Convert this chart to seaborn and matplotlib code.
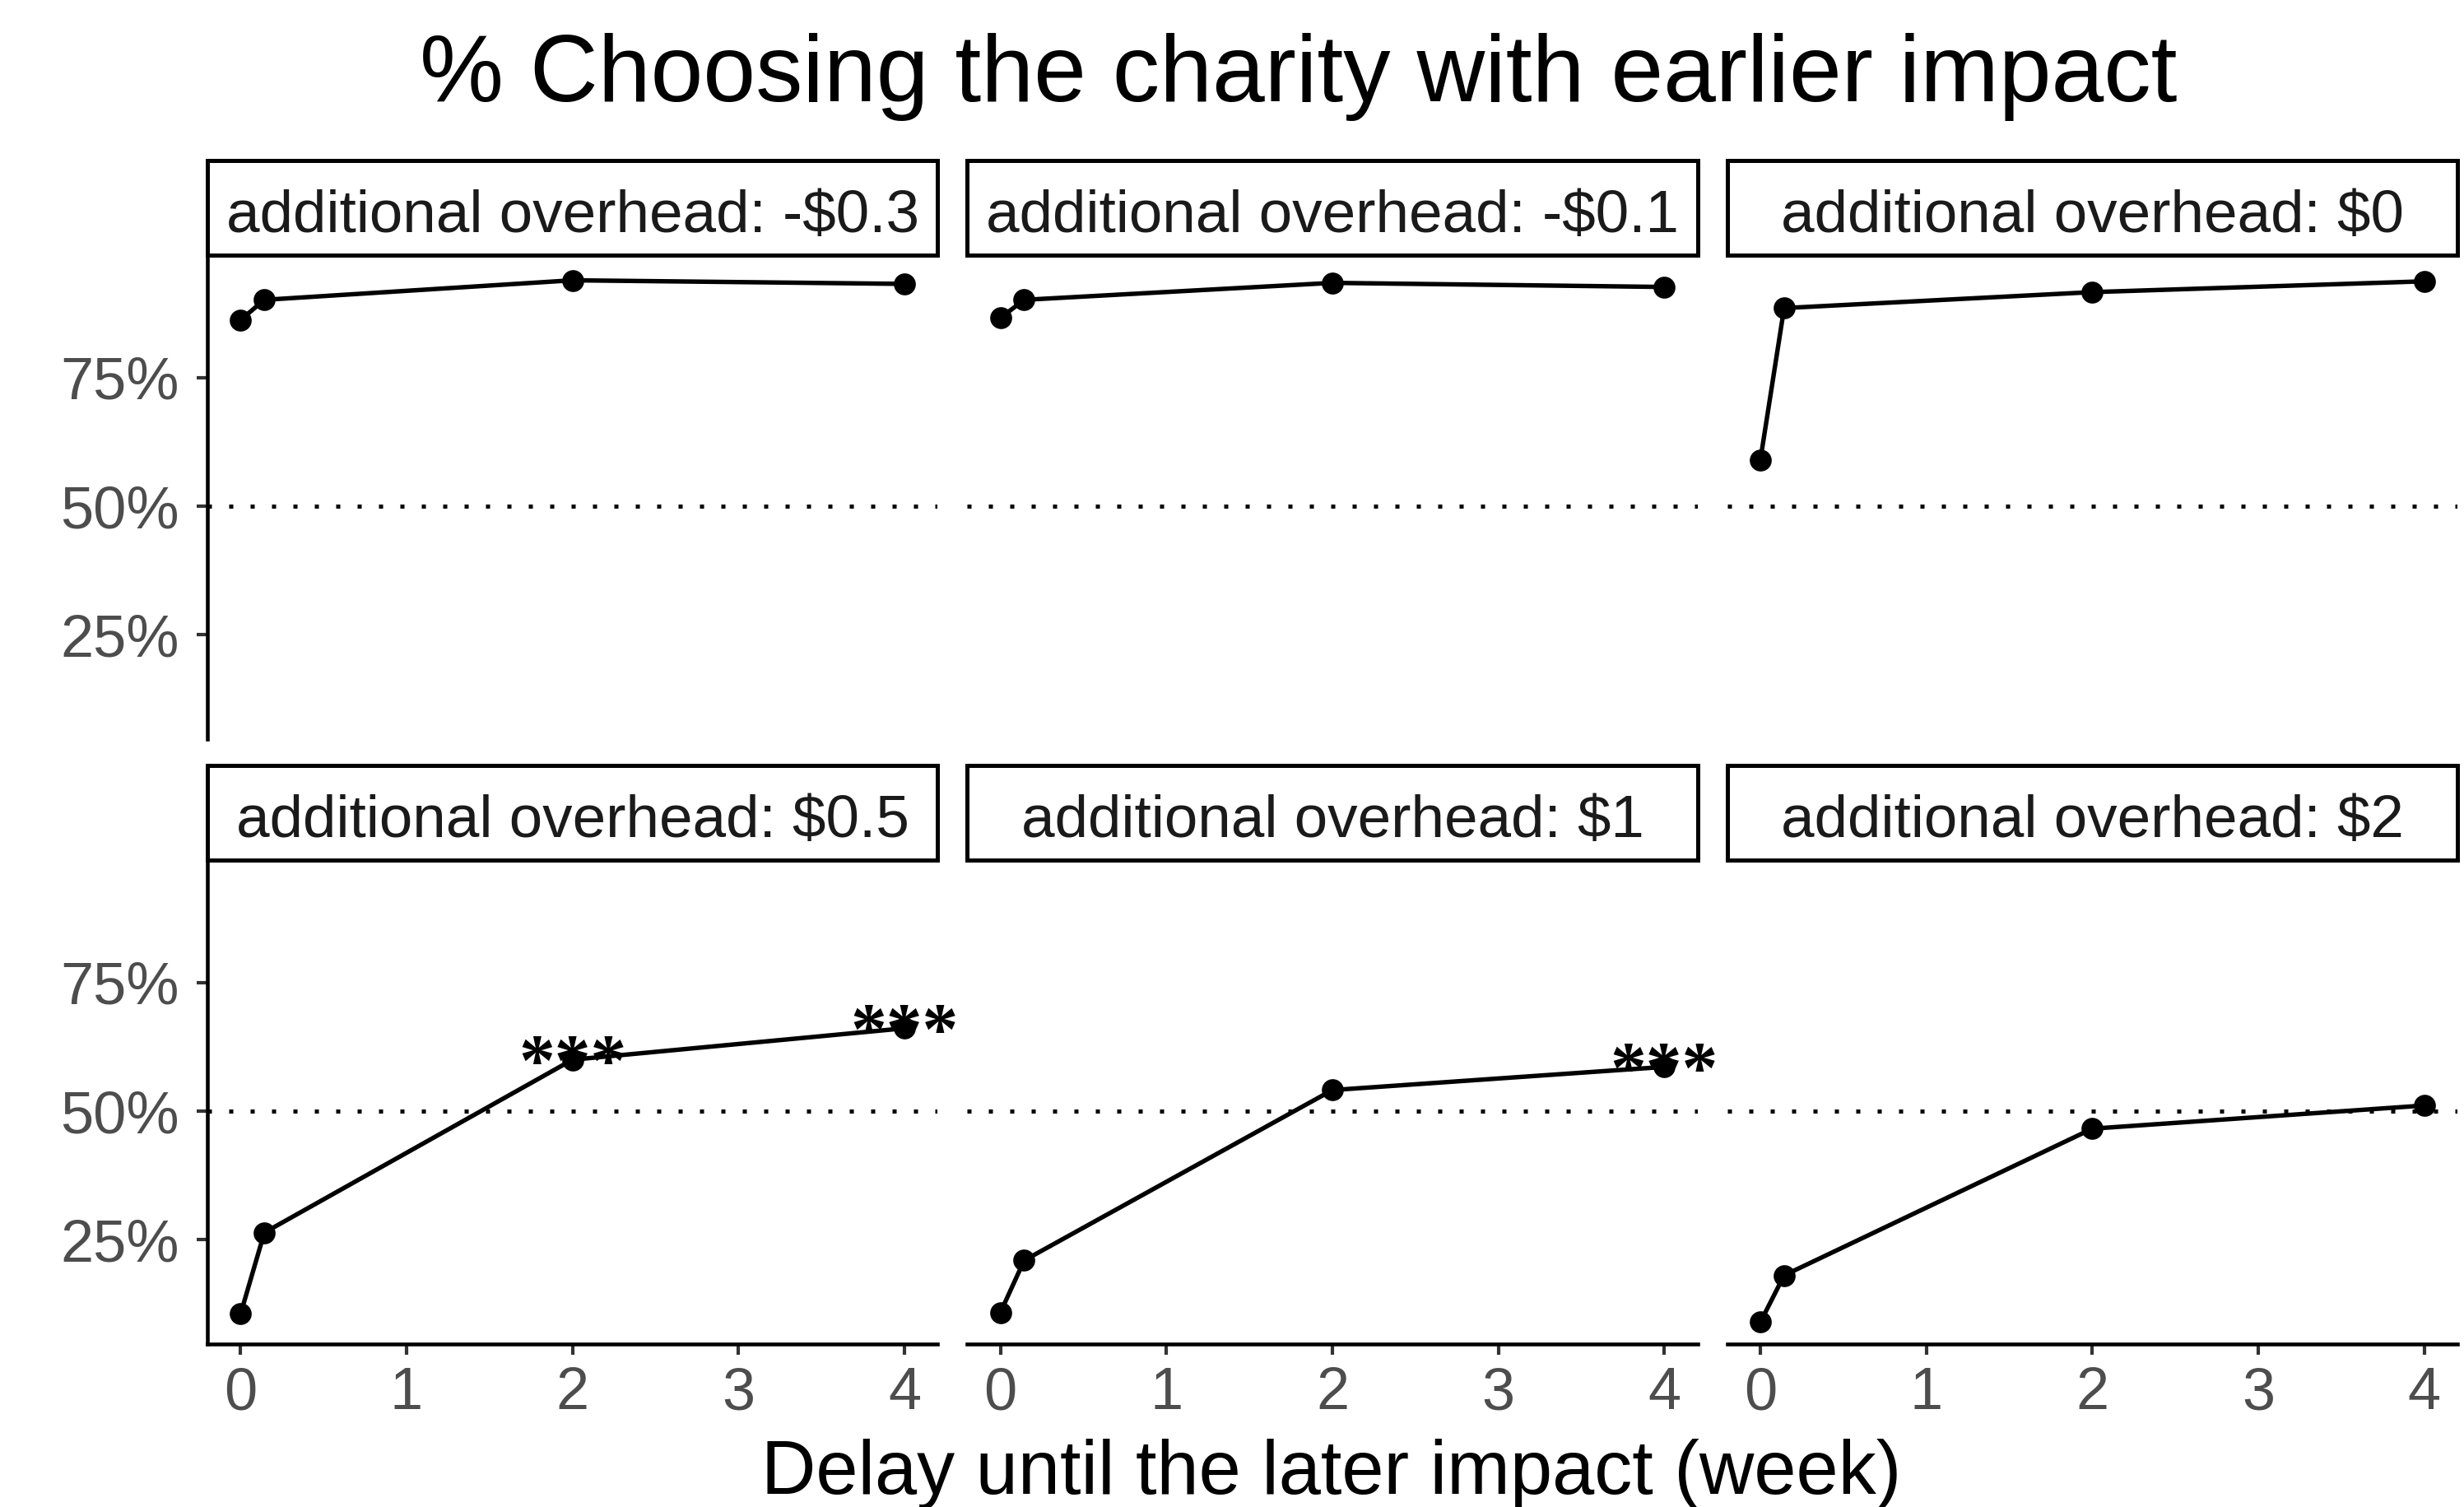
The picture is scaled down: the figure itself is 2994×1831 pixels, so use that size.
import matplotlib
matplotlib.use("Agg")
import matplotlib.pyplot as plt
from matplotlib.patches import Rectangle
from matplotlib.ticker import FixedLocator, FuncFormatter
import numpy as np
import pandas as pd
import seaborn as sns

# ---- data -------------------------------------------------------------
delays = [0, 0.143, 2, 4]  # weeks until the later impact
overheads = ["-$0.3", "-$0.1", "$0", "$0.5", "$1", "$2"]

share_m03 = [0.862, 0.901, 0.939, 0.932]
share_m01 = [0.866, 0.901, 0.934, 0.926]
share_0 = [0.590, 0.885, 0.916, 0.937]
share_05 = [0.106, 0.264, 0.600, 0.661]
share_1 = [0.109, 0.210, 0.541, 0.586]
share_2 = [0.090, 0.181, 0.466, 0.511]

# significance markers: (overhead, delay)
star_marks = [("$0.5", 2), ("$0.5", 4), ("$1", 4)]
star_text = "***"

x_ticks = [0, 1, 2, 3, 4]
y_ticks = [0.25, 0.50, 0.75]

title = "% Choosing the charity with earlier impact"
x_label = "Delay until the later impact (week)"
strip_prefix = "additional overhead: "

series = [share_m03, share_m01, share_0, share_05, share_1, share_2]
df = pd.DataFrame({
    "overhead": np.repeat(overheads, len(delays)),
    "delay": delays * len(overheads),
    "share": np.concatenate(series),
})
df["overhead"] = pd.Categorical(df["overhead"], categories=overheads, ordered=True)

# ---- style ------------------------------------------------------------
sns.set_theme(style="ticks")
plt.rcParams["font.family"] = ["Liberation Sans", "DejaVu Sans"]

W, H, DPI = 2995, 1831, 300

g = sns.FacetGrid(df, col="overhead", col_order=overheads, col_wrap=3,
                  sharex=True, sharey=True, height=3, aspect=1.5, despine=False)
g.map_dataframe(sns.lineplot, x="delay", y="share", color="black",
                linewidth=1.3, marker="o", markersize=6.4, markeredgewidth=0,
                estimator=None, sort=True)
g.set_titles("")
g.set_axis_labels("", "")

fig = g.figure
fig.set_size_inches(W / DPI, H / DPI)

# panel geometry (figure fractions)
pw = 887.3 / W
ph = 584 / H
lefts = [252 / W, 1175.3 / W, 2098.7 / W]
bottoms = [1 - 898 / H, 1 - 1633 / H]

lo, hi = df["share"].min(), df["share"].max()
pad = 0.05 * (hi - lo)

pct = FuncFormatter(lambda v, _: f"{v * 100:.0f}%")

for i, ax in enumerate(g.axes.flat):
    r, c = divmod(i, 3)
    ax.set_position([lefts[c], bottoms[r], pw, ph])
    ax.set_xlim(-0.2, 4.2)
    ax.set_ylim(lo - pad, hi + pad)
    ax.set_title("")
    ax.set_xlabel("")
    ax.set_ylabel("")

    ax.xaxis.set_major_locator(FixedLocator(x_ticks))
    ax.yaxis.set_major_locator(FixedLocator(y_ticks))
    ax.yaxis.set_major_formatter(pct)

    ax.tick_params(axis="both", length=3.1, width=1.0, color="#333333",
                   labelcolor="#4D4D4D", labelsize=17.3)
    ax.tick_params(axis="y", pad=5.0)
    ax.tick_params(axis="x", pad=3.5)

    for side in ("top", "right"):
        ax.spines[side].set_visible(False)
    for side in ("left", "bottom"):
        ax.spines[side].set_linewidth(1.1)
        ax.spines[side].set_color("black")

    if r == 0:
        ax.spines["bottom"].set_visible(False)
        ax.tick_params(axis="x", bottom=False, labelbottom=False)
    else:
        ax.tick_params(axis="x", bottom=True, labelbottom=True)
    if c > 0:
        ax.spines["left"].set_visible(False)
        ax.tick_params(axis="y", left=False, labelleft=False)
    else:
        ax.tick_params(axis="y", left=True, labelleft=True)

    # reference line at 50%
    ax.axhline(0.5, color="black", lw=1.2, ls=(0, (1, 4.2)), zorder=1)

    # strip box with facet label
    ax.add_patch(Rectangle((0, 1.006), 1, 0.197, transform=ax.transAxes,
                           facecolor="white", edgecolor="black", lw=1.2,
                           clip_on=False, zorder=5))
    ax.text(0.5, 1.0548, strip_prefix + overheads[i], transform=ax.transAxes,
            ha="center", va="baseline", fontsize=17.5, color="#1A1A1A",
            parse_math=False, zorder=6)

# significance stars
for label, d in star_marks:
    ax = g.axes.flat[overheads.index(label)]
    v = df.loc[(df["overhead"] == label) & (df["delay"] == d), "share"].iloc[0]
    ax.annotate(star_text, xy=(d, v), xytext=(0, -2), textcoords="offset points",
                ha="center", va="center", fontsize=21, color="black",
                fontfamily="Liberation Serif", fontweight="bold",
                annotation_clip=False, zorder=7)

fig.text(1578 / W, 1 - 123 / H, title, ha="center", va="baseline",
         fontsize=27.5, color="black")
fig.text(1618 / W, 1 - 1815 / H, x_label, ha="center", va="baseline",
         fontsize=22.1, color="black")

fig.savefig("out.png", dpi=DPI, facecolor="white")
